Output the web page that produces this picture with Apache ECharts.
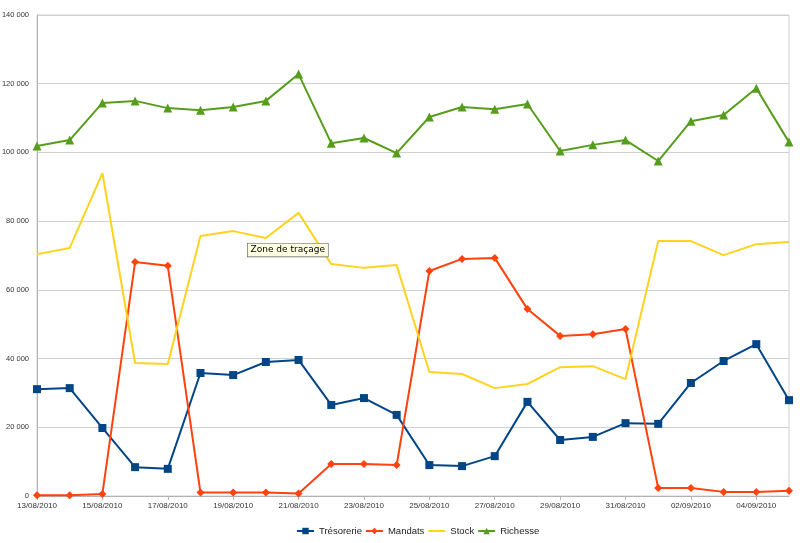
<!DOCTYPE html>
<html><head><meta charset="utf-8">
<script src="https://cdn.jsdelivr.net/npm/echarts@6/dist/echarts.min.js"></script>
<style>html,body{margin:0;padding:0;background:#fff}#c{width:800px;height:543px}</style>
</head><body><div id="c"></div>
<script>
const categories = ['13/08/2010','14/08/2010','15/08/2010','16/08/2010','17/08/2010','18/08/2010','19/08/2010','20/08/2010','21/08/2010','22/08/2010','23/08/2010','24/08/2010','25/08/2010','26/08/2010','27/08/2010','28/08/2010','29/08/2010','30/08/2010','31/08/2010','01/09/2010','02/09/2010','03/09/2010','04/09/2010','05/09/2010'];
const tresorerie = [31100,31400,19800,8400,7900,35800,35200,39000,39600,26500,28500,23600,9000,8700,11600,27400,16300,17200,21200,21000,32900,39300,44200,27900];
const mandats = [200,200,600,68100,67000,1000,1000,1000,700,9300,9300,9000,65500,69000,69300,54400,46600,47100,48600,2300,2300,1200,1200,1500];
const stock = [70400,72200,94000,38700,38400,75700,77100,75100,82400,67500,66400,67200,36100,35500,31400,32600,37500,37800,34000,74200,74200,70100,73300,73900];
const richesse = [101900,103600,114400,115000,112900,112300,113200,115000,122800,102700,104200,99800,110300,113200,112600,114100,100400,102200,103600,97500,109100,110900,118700,103000];

const chart = echarts.init(document.getElementById('c'));
const fmt = v => String(v).replace(/\B(?=(\d{3})+(?!\d))/g, ' ');
const FONT = 'Liberation Sans';
chart.setOption({
  animation: false,
  textStyle: {fontFamily: FONT},
  grid: {left: 37, right: 11, top: 15, bottom: 47, containLabel: false, outerBoundsMode: 'none',
    show: true, borderColor: '#d0d0d0', borderWidth: 1},
  legend: {
    bottom: 7, left: 296, padding: 0, itemWidth: 17, itemHeight: 8, itemGap: 3,
    textStyle: {fontSize: 9.5, color: '#222', fontFamily: FONT},
    data: ['Trésorerie','Mandats',{name: 'Stock', itemStyle: {opacity: 0}},'Richesse']
  },
  xAxis: {
    type: 'category', data: categories, boundaryGap: false,
    axisLine: {lineStyle: {color: '#b3b3b3'}},
    axisTick: {show: true, interval: 1, length: 4, lineStyle: {color: '#b3b3b3'}},
    axisLabel: {interval: 1, fontSize: 8, color: '#333', margin: 6, fontFamily: FONT}
  },
  yAxis: {
    type: 'value', min: 0, max: 140000, interval: 20000,
    axisLine: {show: true, lineStyle: {color: '#b3b3b3'}},
    axisTick: {show: false},
    splitLine: {lineStyle: {color: '#d0d0d0'}},
    axisLabel: {fontSize: 7.5, color: '#333', margin: 8, formatter: fmt, fontFamily: FONT}
  },
  graphic: [{
    type: 'text', left: 247, top: 243, z: 100,
    style: {text: 'Zone de traçage', fontSize: 9, fill: '#000', fontFamily: 'DejaVu Sans',
      backgroundColor: '#ffffe1', borderColor: '#555', borderWidth: 0.6, padding: [2, 3, 2, 3]}
  }],
  series: [
    {name: 'Trésorerie', type: 'line', data: tresorerie, symbol: 'rect', symbolSize: 8,
      lineStyle: {width: 2, color: '#004586'}, itemStyle: {color: '#004586'}},
    {name: 'Mandats', type: 'line', data: mandats, symbol: 'diamond', symbolSize: 8,
      lineStyle: {width: 2, color: '#ff420e'}, itemStyle: {color: '#ff420e'}},
    {name: 'Stock', type: 'line', data: stock, symbol: 'none',
      lineStyle: {width: 2, color: '#ffd320'}, itemStyle: {color: '#ffd320'}},
    {name: 'Richesse', type: 'line', data: richesse, symbol: 'triangle', symbolSize: 9,
      lineStyle: {width: 2, color: '#579d1c'}, itemStyle: {color: '#579d1c'}}
  ]
});
</script></body></html>
